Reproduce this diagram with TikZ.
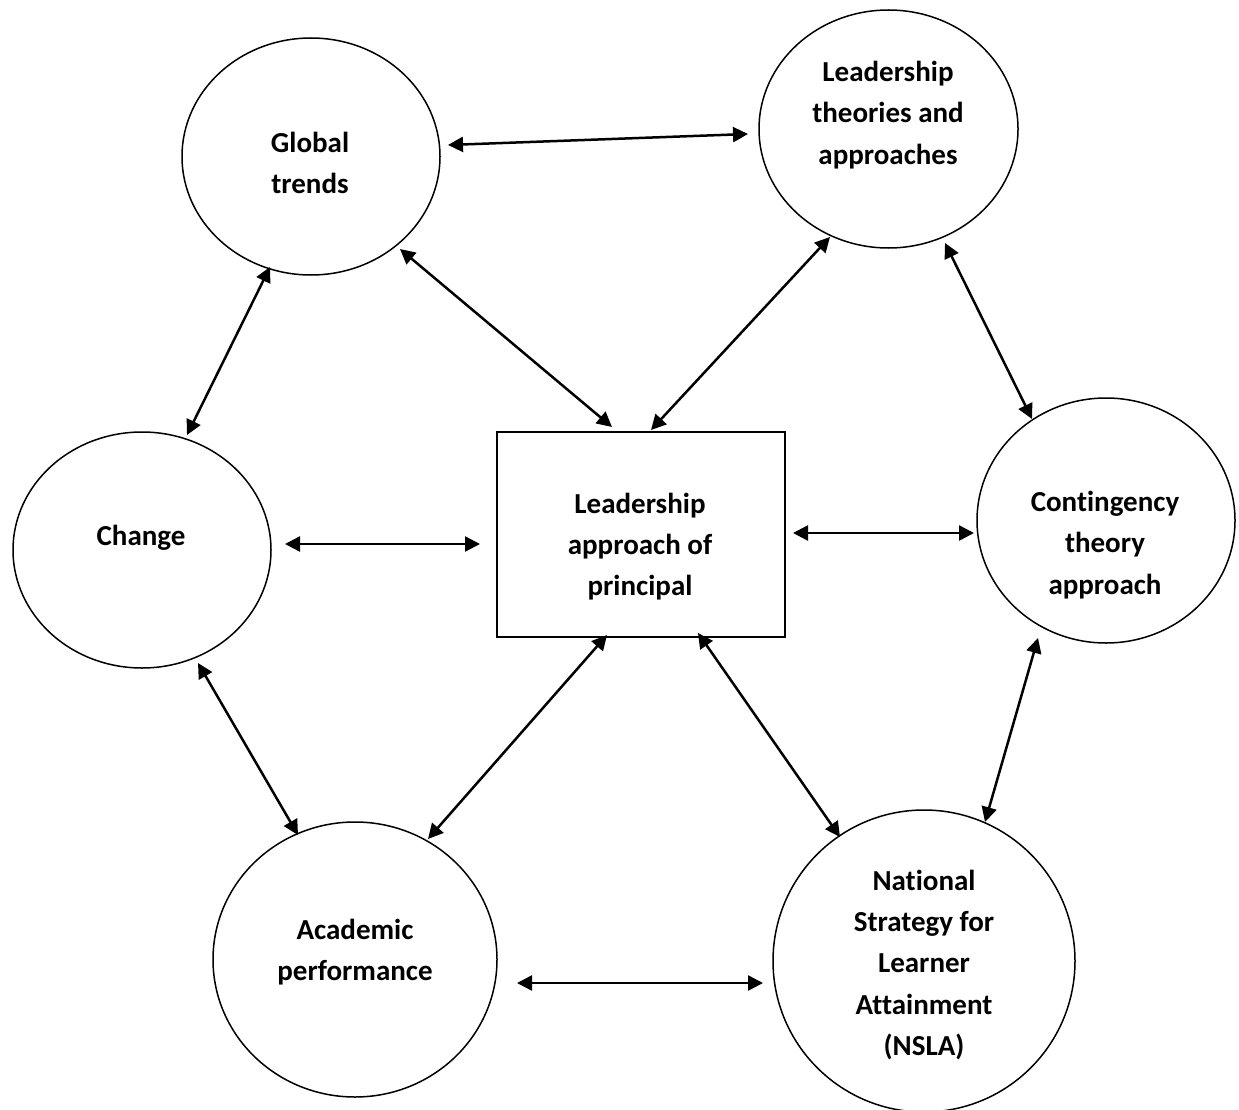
\documentclass[tikz,border=0pt]{standalone}
\usepackage{fontspec}
\setmainfont{Carlito}[Ligatures={NoCommon}]
\usetikzlibrary{shapes.geometric,arrows.meta}
\begin{document}
\begin{tikzpicture}[x=1pt,y=-1pt,
  bubble/.style={draw,line width=1.5pt,ellipse,inner sep=0pt},
  boxnode/.style={draw,line width=1.5pt,rectangle,inner sep=0pt},
  lbl/.style={align=center,font=\bfseries\fontsize{29}{41.3}\selectfont},
  link/.style={line width=2.5pt,{Triangle[length=15pt,width=15pt]}-{Triangle[length=15pt,width=15pt]}}]
\useasboundingbox (0,0) rectangle (1239,1110);
% shapes
\node[bubble,minimum width=258pt,minimum height=237pt] (glob) at (311,156.5) {};
\node[bubble,minimum width=259pt,minimum height=238pt] (lead) at (888.5,129) {};
\node[bubble,minimum width=258pt,minimum height=236pt] (chg) at (142,550) {};
\node[bubble,minimum width=258pt,minimum height=245pt] (cont) at (1106,520.5) {};
\node[bubble,minimum width=284pt,minimum height=275pt] (acad) at (355,959.5) {};
\node[bubble,minimum width=302pt,minimum height=302pt] (nsla) at (924,961) {};
\node[boxnode,minimum width=288pt,minimum height=205pt] (rect) at (641,534.5) {};
% labels
\node[lbl] (tglob) at (310,163) {Global\\trends};
\node[lbl] (tlead) at (888,115) {Leadership\\theories and\\approaches};
\node[lbl] (tchg) at (141,538) {Change};
\node[lbl] (tcont) at (1105,545) {Contingency\\theory\\approach};
\node[lbl] (tacad) at (355,952) {Academic\\performance};
\node[lbl] (tnsla) at (924,965) {National\\Strategy for\\Learner\\Attainment\\(NSLA)};
\node[lbl] (trect) at (640,546.5) {Leadership\\approach of\\principal};
% connector end points
\coordinate (a1) at (448,145);  \coordinate (a2) at (748,134);
\coordinate (b1) at (400,249);  \coordinate (b2) at (612,427);
\coordinate (c1) at (830,237);  \coordinate (c2) at (651,430);
\coordinate (d1) at (945,243);  \coordinate (d2) at (1032,419);
\coordinate (e1) at (270,267);  \coordinate (e2) at (187,435);
\coordinate (f1) at (285,544);  \coordinate (f2) at (480,544);
\coordinate (g1) at (793,533);  \coordinate (g2) at (974,533);
\coordinate (h1) at (198,663);  \coordinate (h2) at (298,835);
\coordinate (i1) at (607,635);  \coordinate (i2) at (428,839);
\coordinate (j1) at (698,633);  \coordinate (j2) at (840,837);
\coordinate (k1) at (1038,638); \coordinate (k2) at (985,822);
\coordinate (l1) at (517,983);  \coordinate (l2) at (763,983);
% connectors
\draw[link] (a1) -- (a2);
\draw[link] (b1) -- (b2);
\draw[link] (c1) -- (c2);
\draw[link] (d1) -- (d2);
\draw[link] (e1) -- (e2);
\draw[link] (f1) -- (f2);
\draw[link] (g1) -- (g2);
\draw[link] (h1) -- (h2);
\draw[link] (i1) -- (i2);
\draw[link] (j1) -- (j2);
\draw[link] (k1) -- (k2);
\draw[link] (l1) -- (l2);
\end{tikzpicture}
\end{document}
